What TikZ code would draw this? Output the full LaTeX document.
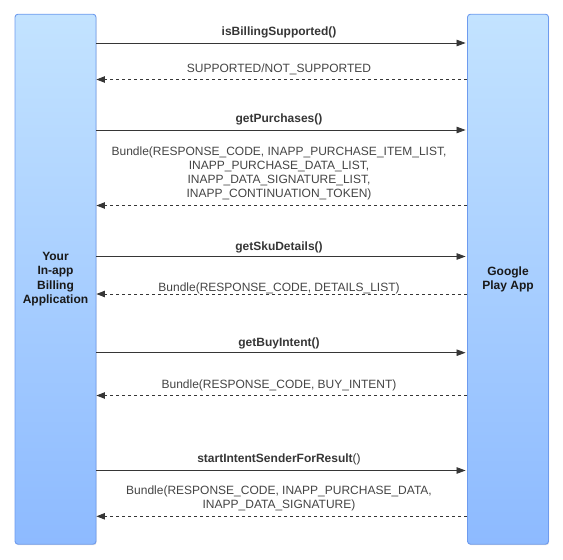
\documentclass[tikz,border=0pt]{standalone}
\usepackage{fontspec}
\setmainfont{Liberation Sans}
\usetikzlibrary{arrows.meta,shadows}
\definecolor{boxtop}{HTML}{C3E3FF}
\definecolor{boxbot}{HTML}{8DBAFF}
\definecolor{boxline}{HTML}{6E9BEE}
\definecolor{ink}{HTML}{363636}
\definecolor{txt}{HTML}{444444}
\tikzset{
  lane/.style={draw=boxline, line width=0.9pt, rounded corners=3pt,
    top color=boxtop, bottom color=boxbot, minimum width=81pt, minimum height=530pt,
    inner sep=0pt, align=center, font=\fontsize{12}{14.2}\selectfont\bfseries, text=black!90,
    drop shadow={shadow xshift=0.6pt, shadow yshift=-1pt, opacity=0.25}},
  call/.style={draw=ink, line width=0.8pt, -{Triangle[length=9pt,width=6.5pt]}, shorten >=1.5pt},
  reply/.style={draw=ink, line width=0.8pt, dash pattern=on 3pt off 3pt, -{Triangle[length=8.5pt,width=6.5pt]}},
  clbl/.style={font=\fontsize{12}{13.8}\selectfont\bfseries, text=ink, inner sep=0pt},
  rlbl/.style={font=\fontsize{12}{13.8}\selectfont, text=txt, inner sep=0pt, align=center},
}
\begin{document}
\begin{tikzpicture}[x=1pt,y=-1pt]
\useasboundingbox (0,0) rectangle (563,560);
\node[lane] (app) at (55.5,279.2) {Your\\In-app\\Billing\\Application};
\node[lane] (play) at (508,279.2) {Google\\Play App};
% row coordinates
\coordinate (r1) at (0,43);
\coordinate (r2) at (0,79.5);
\coordinate (r3) at (0,130);
\coordinate (r4) at (0,205.5);
\coordinate (r5) at (0,256.5);
\coordinate (r6) at (0,294);
\coordinate (r7) at (0,352.7);
\coordinate (r8) at (0,395.5);
\coordinate (r9) at (0,470.5);
\coordinate (r10) at (0,516.3);
% connectors
\draw[call] (app.east |- r1) -- (play.west |- r1);
\draw[reply] (play.west |- r2) -- (app.east |- r2);
\draw[call] (app.east |- r3) -- (play.west |- r3);
\draw[reply] (play.west |- r4) -- (app.east |- r4);
\draw[call] (app.east |- r5) -- (play.west |- r5);
\draw[reply] (play.west |- r6) -- (app.east |- r6);
\draw[call] (app.east |- r7) -- (play.west |- r7);
\draw[reply] (play.west |- r8) -- (app.east |- r8);
\draw[call] (app.east |- r9) -- (play.west |- r9);
\draw[reply] (play.west |- r10) -- (app.east |- r10);
% labels
\node[clbl] (l1) at (279,32.5) {isBillingSupported()};
\node[rlbl] (l2) at (279,69) {SUPPORTED/NOT\_SUPPORTED};
\node[clbl] (l3) at (279,119.3) {getPurchases()};
\node[rlbl] (l4) at (279,173.5) {Bundle(RESPONSE\_CODE, INAPP\_PURCHASE\_ITEM\_LIST,\\INAPP\_PURCHASE\_DATA\_LIST,\\INAPP\_DATA\_SIGNATURE\_LIST,\\INAPP\_CONTINUATION\_TOKEN)};
\node[clbl] (l5) at (279,247.3) {getSkuDetails()};
\node[rlbl] (l6) at (279,288.3) {Bundle(RESPONSE\_CODE, DETAILS\_LIST)};
\node[clbl] (l7) at (279,343.5) {getBuyIntent()};
\node[rlbl] (l8) at (279,385) {Bundle(RESPONSE\_CODE, BUY\_INTENT)};
\node[clbl] (l9) at (279,459.5) {startIntentSenderForResult{\mdseries()}};
\node[rlbl] (l10) at (279,498) {Bundle(RESPONSE\_CODE, INAPP\_PURCHASE\_DATA,\\INAPP\_DATA\_SIGNATURE)};
\end{tikzpicture}
\end{document}
